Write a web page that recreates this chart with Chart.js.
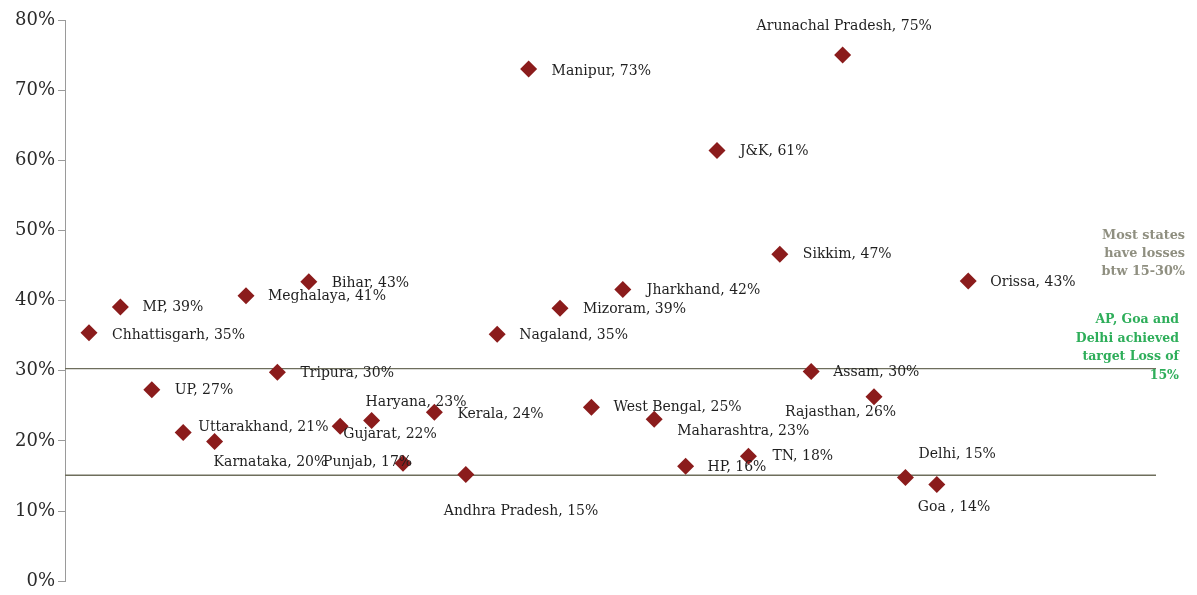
<!DOCTYPE html>
<html>
<head>
<meta charset="utf-8">
<script src="https://cdn.jsdelivr.net/npm/chart.js@4.4.0/dist/chart.umd.min.js"></script>
<style>
  body { margin: 0; background: #fff; }
  #wrap { width: 1197px; height: 595px; }
</style>
</head>
<body>
<div id="wrap"><canvas id="grafica" width="1197" height="595"></canvas></div>
<script>
// estados y pérdidas (%)
const estados = ["Chhattisgarh", "MP", "UP", "Uttarakhand", "Karnataka", "Meghalaya", "Tripura",
  "Bihar", "Gujarat", "Haryana", "Punjab", "Kerala", "Andhra Pradesh", "Nagaland", "Manipur",
  "Mizoram", "West Bengal", "Jharkhand", "Maharashtra", "HP", "J&K", "TN", "Sikkim", "Assam",
  "Arunachal Pradesh", "Rajasthan", "Delhi", "Goa ", "Orissa"];
const perdidas = [35.4, 39.1, 27.3, 21.2, 19.9, 40.7, 29.8, 42.7, 22.1, 22.9, 16.8, 24.1, 15.2,
  35.2, 73.0, 38.9, 24.8, 41.6, 23.1, 16.4, 61.4, 17.8, 46.6, 29.9, 75.0, 26.3, 14.8, 13.8, 42.8];
const ticksY = [0, 10, 20, 30, 40, 50, 60, 70, 80];
// líneas de referencia
const lineaAlta = 30.3;
const lineaBaja = 15.1;

// desplazamiento de cada etiqueta respecto a su punto (px)
const offsets = [[23, 2], [22, 0], [23, 1], [15, -5], [-1, 21], [22, 1], [23, 1], [23, 2],
  [3, 8], [-6, -18], [-80, -1], [23, 2], [-22, 37], [22, 1], [23, 2], [23, 1], [22, 0],
  [24, 1], [23, 12], [22, 1], [23, 1], [24, 0], [23, 0], [22, 1], [-86, -29], [-89, 16],
  [13, -23], [-19, 23], [22, 1]];

const xMin = -0.764;
const xMax = 33.98;

const ctx = document.getElementById("grafica").getContext("2d");

const etiquetas = {
  id: "etiquetas",
  afterDatasetsDraw(chart) {
    const c = chart.ctx;
    const meta = chart.getDatasetMeta(0);
    c.save();
    c.font = "14px 'DejaVu Serif'";
    c.fillStyle = "#1f1f1f";
    c.textAlign = "left";
    c.textBaseline = "middle";
    meta.data.forEach((p, i) => {
      const txt = estados[i] + ", " + Math.round(perdidas[i]) + "%";
      c.fillText(txt, p.x + offsets[i][0], p.y + offsets[i][1]);
    });

    // notas a la derecha
    c.textAlign = "right";
    c.font = "bold 12.8px 'DejaVu Serif'";
    c.fillStyle = "#8f8f80";
    ["Most states", "have losses", "btw 15-30%"].forEach((t, i) => {
      c.fillText(t, 1185, 236 + i * 18);
    });
    c.font = "bold 12.5px 'DejaVu Serif'";
    c.fillStyle = "#2eae5a";
    ["AP, Goa and", "Delhi achieved", "target Loss of", "15%"].forEach((t, i) => {
      c.fillText(t, 1179, 320 + i * 18.5);
    });
    c.restore();
  }
};

const grafico = new Chart(ctx, {
  type: "scatter",
  data: {
    datasets: [
      {
        label: "Pérdidas",
        data: perdidas.map((v, i) => ({ x: i, y: v })),
        pointStyle: "rectRot",
        pointRadius: 8.5,
        pointHoverRadius: 8.5,
        backgroundColor: "#8b1c1c",
        borderColor: "#8b1c1c",
        borderWidth: 0,
      },
      {
        type: "line",
        data: [{ x: xMin, y: lineaAlta }, { x: xMax, y: lineaAlta }],
        borderColor: "#6e6e5c",
        borderWidth: 1.3,
        pointRadius: 0,
      },
      {
        type: "line",
        data: [{ x: xMin, y: lineaBaja }, { x: xMax, y: lineaBaja }],
        borderColor: "#6e6e5c",
        borderWidth: 1.3,
        pointRadius: 0,
      },
    ],
  },
  options: {
    responsive: false,
    animation: false,
    layout: { padding: { top: 20, bottom: 13, right: 41, left: 0 } },
    plugins: { legend: { display: false }, tooltip: { enabled: false } },
    scales: {
      x: { type: "linear", min: xMin, max: xMax, display: false },
      y: {
        min: 0,
        max: 80,
        afterFit: (scale) => { scale.width = 65; },
        afterBuildTicks: (scale) => { scale.ticks = ticksY.map((v) => ({ value: v })); },
        border: { display: true, color: "#9a9a9a", width: 1 },
        grid: { drawOnChartArea: false, tickLength: 7, color: "#9a9a9a" },
        ticks: {
          padding: 3,
          color: "#2a2a2a",
          font: { family: "'DejaVu Serif'", size: 18 },
          callback: (v) => v + "%",
        },
      },
    },
  },
  plugins: [etiquetas],
});
</script>
</body>
</html>
